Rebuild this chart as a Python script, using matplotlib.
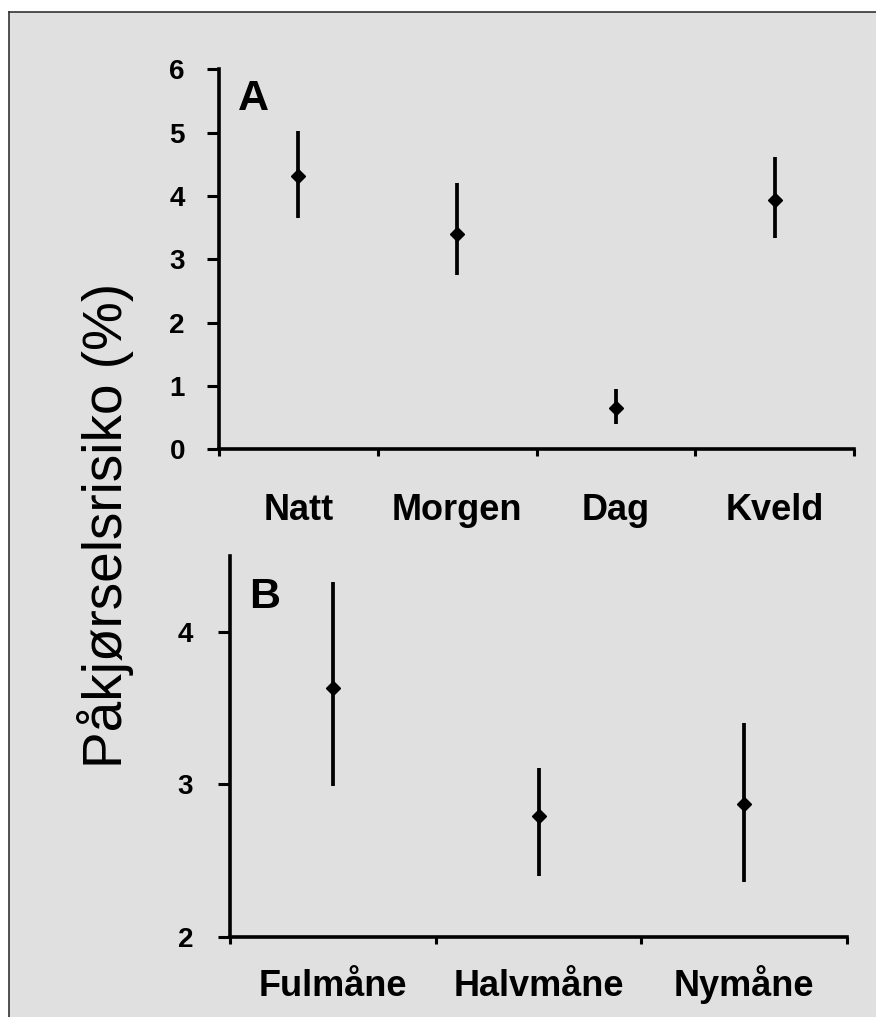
import numpy as np
import matplotlib
matplotlib.use("Agg")
import matplotlib.pyplot as plt
from matplotlib.patches import Rectangle
from matplotlib.lines import Line2D

plt.rcParams['font.family'] = ['Liberation Sans', 'DejaVu Sans']

# Panel A: time of day
periods = ['Natt', 'Morgen', 'Dag', 'Kveld']
risk_a = [4.32, 3.40, 0.65, 3.93]
low_a = [3.66, 2.75, 0.40, 3.34]
high_a = [5.03, 4.20, 0.95, 4.62]

# Panel B: moon phase
phases = ['Fulmåne', 'Halvmåne', 'Nymåne']
risk_b = [3.63, 2.79, 2.87]
low_b = [2.99, 2.40, 2.36]
high_b = [4.325, 3.11, 3.40]

W, H = 876, 1017
fig = plt.figure(figsize=(W / 100, H / 100), dpi=100)
fig.patch.set_facecolor('white')

# grey background box with black top/left border
fig.patches.append(Rectangle((9 / W, 0), 1 - 9 / W, 1 - 12 / H, transform=fig.transFigure,
                             facecolor='#e0e0e0', edgecolor='none', zorder=-10))
fig.lines.append(Line2D([9 / W, 9 / W], [0, 1 - 12 / H], transform=fig.transFigure,
                        color='#333333', lw=1.2))
fig.lines.append(Line2D([9 / W, 1], [1 - 12 / H, 1 - 12 / H], transform=fig.transFigure,
                        color='#333333', lw=1.2))


def px_axes(left, right, top, bottom):
    return fig.add_axes([left / W, 1 - bottom / H, (right - left) / W, (bottom - top) / H])


def style(ax, n, labels, ypad, xpad):
    ax.set_facecolor('none')
    for s in ['top', 'right']:
        ax.spines[s].set_visible(False)
    for s in ['left', 'bottom']:
        ax.spines[s].set_linewidth(2.6)
    ax.set_xlim(0, n)
    ax.set_xticks(np.arange(n + 1))
    ax.set_xticklabels([])
    ax.set_xticks(np.arange(n) + 0.5, minor=True)
    ax.set_xticklabels(labels, minor=True, fontsize=26, fontweight='bold', va='baseline')
    ax.tick_params(axis='x', which='major', direction='out', length=5, width=2.2)
    ax.tick_params(axis='x', which='minor', length=0, pad=xpad)
    ax.tick_params(axis='y', direction='out', length=8.5, width=2.2, pad=ypad,
                   labelsize=20)
    for t in ax.get_yticklabels():
        t.set_fontweight('bold')


def draw(ax, vals, lo, hi):
    x = np.arange(len(vals)) + 0.5
    ax.vlines(x, lo, hi, color='black', lw=2.7)
    ax.plot(x, vals, linestyle='none', marker='D', markersize=7.5, color='black')


# panel A
axA = px_axes(219, 854, 69.3, 449.3)
draw(axA, risk_a, low_a, high_a)
axA.set_ylim(0, 6)
axA.set_yticks(range(0, 7))
style(axA, len(periods), periods, ypad=16, xpad=51)
axA.text(238 / W, 1 - 110 / H, 'A', transform=fig.transFigure, fontsize=31,
         fontweight='bold')

# panel B
axB = px_axes(230, 847, 555.7, 936.7)
draw(axB, risk_b, low_b, high_b)
axB.set_ylim(2, 4.5)
axB.set_yticks([2, 3, 4])
style(axB, len(phases), phases, ypad=18, xpad=43)
axB.text(249 / W, 1 - 608 / H, 'B', transform=fig.transFigure, fontsize=31,
         fontweight='bold')

fig.text(105 / W, 1 - 525 / H, 'Påkjørselsrisiko (%)', rotation=90, fontsize=39.5,
         ha='center', va='center')

fig.savefig('out.png', dpi=100)
